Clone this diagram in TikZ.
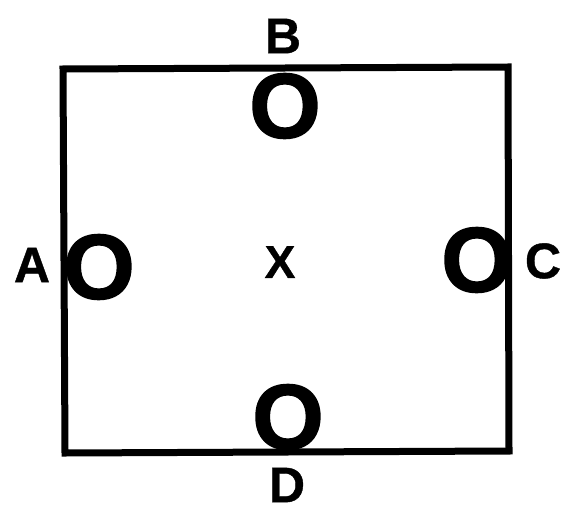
\documentclass[tikz,border=0pt]{standalone}
\usepackage{fontspec}
\setmainfont{Liberation Sans}
\newfontfamily\heavysans{Liberation Sans}[UprightFont=*-Bold, UprightFeatures={FakeBold=1.6}]
\newfontfamily\boldsans{Liberation Sans}[UprightFont=*-Bold, UprightFeatures={FakeBold=0.8}]
\usepackage{tikz}
\usetikzlibrary{positioning}
\definecolor{cInk}{HTML}{000000}
\tikzset{
  frame/.style = {draw=cInk, line width=7pt, line join=miter},
  ring/.style  = {font=\heavysans\fontsize{92}{92}\selectfont, text=cInk, inner sep=0pt},
  tag/.style   = {font=\boldsans\fontsize{50}{50}\selectfont, text=cInk, inner sep=0pt},
  mid/.style   = {font=\boldsans\fontsize{46}{46}\selectfont, text=cInk, inner sep=0pt},
}
\begin{document}
\begin{tikzpicture}[x=1pt,y=-1pt]
  \useasboundingbox (0,0) rectangle (561,505);
  % square
  \draw[frame] (63,69) -- (508,67) -- (509,451) -- (65,453) -- cycle;

  % the four O's
  \node[ring] (oB) at (285,106) {O};
  \node[ring] (oA) at (99,267)  {O};
  \node[ring] (oC) at (477,260) {O};
  \node[ring] (oD) at (288,417) {O};

  % side labels
  \node[tag] (lB) at (283,36)  {B};
  \node[tag] (lA) at (32,265)  {A};
  \node[tag] (lC) at (543,261) {C};
  \node[tag] (lD) at (287,485) {D};

  \node[mid] (mX) at (280,262) {X};
\end{tikzpicture}
\end{document}
